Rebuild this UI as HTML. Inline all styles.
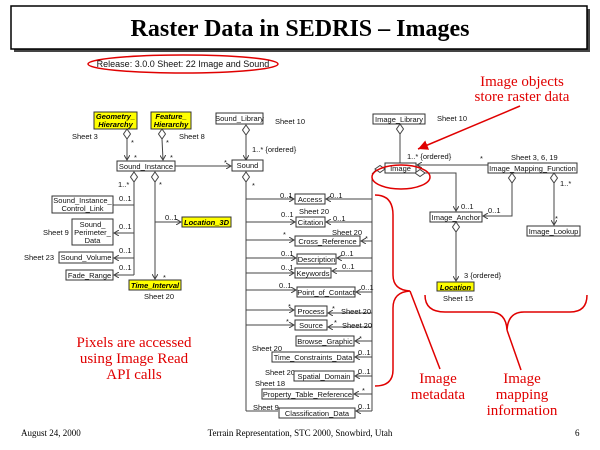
<!DOCTYPE html>
<html><head><meta charset="utf-8"><style>
html,body{margin:0;padding:0;background:#fff;}
svg{display:block;}
.t{font-family:"Liberation Sans",sans-serif;font-size:7.5px;fill:#111;}
.c{text-anchor:middle;}
.b{fill:#fff;stroke:#333;stroke-width:1;}
.y{fill:#ffff00;stroke:#333;stroke-width:1;}
.yt{font-family:"Liberation Sans",sans-serif;font-size:7.5px;font-weight:bold;font-style:italic;text-anchor:middle;}
.l{stroke:#444;stroke-width:1;fill:none;}
.r{font-family:"Liberation Serif",serif;font-size:15px;fill:#e00000;text-anchor:middle;}
.rl{stroke:#e00000;stroke-width:1.5;fill:none;}
.f{font-family:"Liberation Serif",serif;font-size:9px;fill:#000;}
</style></head><body>
<svg width="600" height="450" viewBox="0 0 600 450" xmlns="http://www.w3.org/2000/svg">
<defs>
<marker id="a" markerWidth="6" markerHeight="6" refX="5" refY="3" orient="auto" markerUnits="userSpaceOnUse"><path d="M0,0 L5,3 L0,6" fill="none" stroke="#444" stroke-width="1"/></marker>
<marker id="ra" markerWidth="12" markerHeight="10" refX="10" refY="5" orient="auto" markerUnits="userSpaceOnUse"><path d="M0,0 L10,5 L0,10 Z" fill="#e00000"/></marker>
<path id="d" d="M0,-5 L3.5,0 L0,5 L-3.5,0 Z" fill="#fff" stroke="#444" stroke-width="1"/>
</defs>
<!-- title -->
<rect x="14" y="9" width="576" height="43" fill="#444"/>
<rect x="11" y="6" width="576" height="43" fill="#fff" stroke="#000" stroke-width="1.5"/>
<text x="300" y="36" text-anchor="middle" style="font-family:'Liberation Serif',serif;font-size:24px;font-weight:bold">Raster Data in SEDRIS – Images</text>
<ellipse cx="183" cy="64" rx="95" ry="9" fill="none" stroke="#e00000" stroke-width="1.5"/>
<text x="183" y="67" class="t c" style="font-size:9px">Release: 3.0.0  Sheet: 22  Image and Sound</text>

<!-- left section -->
<rect class="y" x="94" y="112" width="43" height="17"/>
<text class="yt" x="115.5" y="119">Geometry_</text><text class="yt" x="115.5" y="127">Hierarchy</text>
<rect class="y" x="151" y="112" width="40" height="17"/>
<text class="yt" x="171" y="119">Feature_</text><text class="yt" x="171" y="127">Hierarchy</text>
<text class="t" x="72" y="139">Sheet 3</text><text class="t" x="179" y="139">Sheet 8</text>
<use href="#d" x="127" y="134"/><use href="#d" x="162" y="134"/>
<line class="l" x1="127" y1="139" x2="127" y2="160" marker-end="url(#a)"/>
<line class="l" x1="162" y1="139" x2="163" y2="160" marker-end="url(#a)"/>
<text class="t" x="131" y="145">*</text><text class="t" x="166" y="145">*</text>
<text class="t" x="134" y="160">*</text><text class="t" x="170" y="160">*</text>
<rect class="b" x="117" y="161" width="58" height="10"/><text class="t c" x="146" y="169">Sound_Instance</text>
<rect class="b" x="216" y="113" width="47" height="11"/><text class="t c" x="239.5" y="121">Sound_Library</text>
<text class="t" x="275" y="124">Sheet 10</text>
<use href="#d" x="246" y="130"/>
<line class="l" x1="246" y1="135" x2="246" y2="160" marker-end="url(#a)"/>
<text class="t" x="252" y="152">1..* {ordered}</text>
<rect class="b" x="232" y="160" width="31" height="11"/><text class="t c" x="247.5" y="168">Sound</text>
<line class="l" x1="175" y1="166" x2="231" y2="166" marker-end="url(#a)"/>
<text class="t" x="224" y="165">*</text>
<use href="#d" x="134" y="177"/><use href="#d" x="155" y="177"/>
<line class="l" x1="134" y1="182" x2="134" y2="275"/>
<text class="t" x="118" y="187">1..*</text>
<text class="t" x="159" y="187">*</text>
<rect class="b" x="52" y="196" width="61" height="17"/>
<text class="t c" x="82.5" y="203">Sound_Instance_</text><text class="t c" x="82.5" y="211">Control_Link</text>
<line class="l" x1="113" y1="205" x2="134" y2="205"/><text class="t" x="119" y="201">0..1</text>
<rect class="b" x="72" y="219" width="41" height="26"/>
<text class="t c" x="92.5" y="227">Sound_</text><text class="t c" x="92.5" y="235">Perimeter_</text><text class="t c" x="92.5" y="243">Data</text>
<text class="t" x="43" y="235">Sheet 9</text>
<line class="l" x1="134" y1="233" x2="114" y2="233" marker-end="url(#a)"/><text class="t" x="119" y="229">0..1</text>
<rect class="b" x="59" y="252" width="54" height="11"/><text class="t c" x="86" y="260">Sound_Volume</text>
<text class="t" x="24" y="260">Sheet 23</text>
<line class="l" x1="134" y1="258" x2="114" y2="258" marker-end="url(#a)"/><text class="t" x="119" y="253">0..1</text>
<rect class="b" x="66" y="270" width="47" height="10"/><text class="t c" x="89.5" y="278">Fade_Range</text>
<line class="l" x1="134" y1="275" x2="114" y2="275" marker-end="url(#a)"/><text class="t" x="119" y="270">0..1</text>
<line class="l" x1="155" y1="182" x2="155" y2="279" marker-end="url(#a)"/>
<text class="t" x="163" y="280">*</text>
<rect class="y" x="129" y="280" width="52" height="10"/><text class="yt" x="155" y="288">Time_Interval</text>
<text class="t" x="144" y="299">Sheet 20</text>
<line class="l" x1="155" y1="222" x2="181" y2="222" marker-end="url(#a)"/><text class="t" x="165" y="220">0..1</text>
<rect class="y" x="182" y="217" width="49" height="10"/><text class="yt" x="206.5" y="225">Location_3D</text>

<!-- metadata column -->
<use href="#d" x="246" y="177"/>
<line class="l" x1="246" y1="182" x2="246" y2="411"/>
<text class="t" x="252" y="188">*</text>
<line class="l" x1="372" y1="175" x2="372" y2="411"/>
<g>
<rect class="b" x="295" y="194" width="30" height="10"/><text class="t c" x="310" y="202">Access</text>
<line class="l" x1="246" y1="199" x2="294" y2="199" marker-end="url(#a)"/><line class="l" x1="372" y1="199" x2="326" y2="199" marker-end="url(#a)"/>
<text class="t" x="280" y="198">0..1</text><text class="t" x="330" y="198">0..1</text>

<text class="t" x="299" y="214">Sheet 20</text>
<rect class="b" x="296" y="217" width="29" height="10"/><text class="t c" x="310.5" y="225">Citation</text>
<line class="l" x1="246" y1="222" x2="295" y2="222" marker-end="url(#a)"/><line class="l" x1="372" y1="222" x2="326" y2="222" marker-end="url(#a)"/>
<text class="t" x="281" y="217">0..1</text><text class="t" x="333" y="221">0..1</text>

<text class="t" x="332" y="235">Sheet 20</text>
<rect class="b" x="295" y="236" width="65" height="10"/><text class="t c" x="327.5" y="244">Cross_Reference</text>
<line class="l" x1="246" y1="240" x2="294" y2="240" marker-end="url(#a)"/><line class="l" x1="372" y1="241" x2="361" y2="241" marker-end="url(#a)"/>
<text class="t" x="283" y="237">*</text><text class="t" x="365" y="241">*</text>

<rect class="b" x="297" y="254" width="39" height="10"/><text class="t c" x="316.5" y="262">Description</text>
<line class="l" x1="246" y1="258" x2="296" y2="258" marker-end="url(#a)"/><line class="l" x1="372" y1="258" x2="337" y2="258" marker-end="url(#a)"/>
<text class="t" x="281" y="256">0..1</text><text class="t" x="341" y="256">0..1</text>

<rect class="b" x="295" y="268" width="36" height="10"/><text class="t c" x="313" y="276">Keywords</text>
<line class="l" x1="246" y1="273" x2="294" y2="273" marker-end="url(#a)"/><line class="l" x1="372" y1="271" x2="332" y2="271" marker-end="url(#a)"/>
<text class="t" x="281" y="270">0..1</text><text class="t" x="342" y="269">0..1</text>

<rect class="b" x="297" y="287" width="58" height="10"/><text class="t c" x="326" y="295">Point_of_Contact</text>
<line class="l" x1="246" y1="290" x2="296" y2="290" marker-end="url(#a)"/><line class="l" x1="372" y1="292" x2="356" y2="292" marker-end="url(#a)"/>
<text class="t" x="279" y="288">0..1</text><text class="t" x="361" y="290">0..1</text>

<rect class="b" x="295" y="306" width="32" height="10"/><text class="t c" x="311" y="314">Process</text>
<line class="l" x1="246" y1="310" x2="294" y2="310" marker-end="url(#a)"/><line class="l" x1="372" y1="313" x2="328" y2="313" marker-end="url(#a)"/>
<text class="t" x="288" y="309">*</text><text class="t" x="332" y="311">*</text><text class="t" x="341" y="314">Sheet 20</text>

<rect class="b" x="295" y="320" width="32" height="10"/><text class="t c" x="311" y="328">Source</text>
<line class="l" x1="246" y1="325" x2="294" y2="325" marker-end="url(#a)"/><line class="l" x1="372" y1="327" x2="328" y2="327" marker-end="url(#a)"/>
<text class="t" x="286" y="324">*</text><text class="t" x="334" y="325">*</text><text class="t" x="342" y="328">Sheet 20</text>

<rect class="b" x="296" y="336" width="58" height="10"/><text class="t c" x="325" y="344">Browse_Graphic</text>
<line class="l" x1="372" y1="341" x2="355" y2="341" marker-end="url(#a)"/><text class="t" x="359" y="341">*</text>

<text class="t" x="252" y="351">Sheet 20</text>
<rect class="b" x="272" y="352" width="82" height="10"/><text class="t c" x="313" y="360">Time_Constraints_Data</text>
<line class="l" x1="372" y1="357" x2="355" y2="357" marker-end="url(#a)"/><text class="t" x="358" y="355">0..1</text>

<text class="t" x="265" y="375">Sheet 20</text>
<rect class="b" x="294" y="371" width="60" height="10"/><text class="t c" x="324" y="379">Spatial_Domain</text>
<line class="l" x1="372" y1="376" x2="355" y2="376" marker-end="url(#a)"/><text class="t" x="358" y="374">0..1</text>

<text class="t" x="255" y="386">Sheet 18</text>
<rect class="b" x="262" y="389" width="91" height="10"/><text class="t c" x="307.5" y="397">Property_Table_Reference</text>
<line class="l" x1="372" y1="394" x2="354" y2="394" marker-end="url(#a)"/><text class="t" x="362" y="393">*</text>

<text class="t" x="253" y="410">Sheet 9</text>
<rect class="b" x="279" y="408" width="76" height="10"/><text class="t c" x="317" y="416">Classification_Data</text>
<line class="l" x1="246" y1="411" x2="278" y2="411"/>
<line class="l" x1="372" y1="411" x2="356" y2="411" marker-end="url(#a)"/><text class="t" x="358" y="409">0..1</text>
</g>

<!-- image section -->
<rect class="b" x="373" y="114" width="52" height="10"/><text class="t c" x="399" y="122">Image_Library</text>
<text class="t" x="437" y="121">Sheet 10</text>
<use href="#d" x="400" y="129"/>
<line class="l" x1="400" y1="134" x2="400" y2="163"/>
<text class="t" x="407" y="159">1..* {ordered}</text>
<rect class="b" x="385" y="163" width="31" height="10"/><text class="t c" x="400.5" y="171">Image</text>
<use href="#d" x="380" y="169" transform="rotate(90 380 169)"/>
<path class="l" d="M376,170 L372,174"/>
<rect class="b" x="488" y="163" width="89" height="10"/><text class="t c" x="532.5" y="171">Image_Mapping_Function</text>
<text class="t" x="511" y="160">Sheet 3, 6, 19</text><text class="t" x="480" y="161">*</text>
<line class="l" x1="488" y1="165" x2="417" y2="165" marker-end="url(#a)"/>
<use href="#d" x="420" y="173" transform="rotate(90 420 173)"/>
<path class="l" d="M424,173 L456,173 L456,211" marker-end="url(#a)"/>
<text class="t" x="461" y="209">0..1</text>
<rect class="b" x="430" y="212" width="52" height="10"/><text class="t c" x="456" y="220">Image_Anchor</text>
<use href="#d" x="512" y="178"/>
<path class="l" d="M512,183 L512,216 L483,216" marker-end="url(#a)"/>
<text class="t" x="488" y="213">0..1</text>
<use href="#d" x="554" y="178"/>
<line class="l" x1="554" y1="183" x2="554" y2="225" marker-end="url(#a)"/>
<text class="t" x="560" y="186">1..*</text><text class="t" x="555" y="221">*</text>
<rect class="b" x="527" y="226" width="53" height="10"/><text class="t c" x="553.5" y="234">Image_Lookup</text>
<use href="#d" x="456" y="227"/>
<line class="l" x1="456" y1="232" x2="456" y2="281" marker-end="url(#a)"/>
<text class="t" x="464" y="278">3 {ordered}</text>
<rect class="y" x="437" y="282" width="37" height="9"/><text class="yt" x="455.5" y="290">Location</text>
<text class="t" x="443" y="301">Sheet 15</text>

<!-- red annotations -->
<text class="r" x="522" y="86">Image objects</text>
<text class="r" x="522" y="101">store raster data</text>
<line class="rl" x1="520" y1="106" x2="418" y2="149" marker-end="url(#ra)"/>
<ellipse cx="401" cy="177" rx="29" ry="12" class="rl"/>
<path class="rl" d="M375,195 Q393,195 393,215 L393,275 Q393,290 410,291 Q393,292 393,308 L393,370 Q393,386 375,386"/>
<line class="rl" x1="410" y1="291" x2="440" y2="369"/>
<text class="r" x="438" y="383">Image</text><text class="r" x="438" y="399">metadata</text>
<path class="rl" d="M425,295 Q425,312 445,312 L490,312 Q506,312 507,330 Q508,312 524,312 L570,312 Q587,312 587,295"/>
<line class="rl" x1="507" y1="330" x2="521" y2="370"/>
<text class="r" x="522" y="383">Image</text><text class="r" x="522" y="399">mapping</text><text class="r" x="522" y="415">information</text>
<text class="r" x="134" y="347">Pixels are accessed</text>
<text class="r" x="134" y="363">using Image Read</text>
<text class="r" x="134" y="379">API calls</text>

<!-- footer -->
<text class="f" x="21" y="436">August 24, 2000</text>
<text class="f" x="300" y="436" text-anchor="middle">Terrain Representation, STC 2000, Snowbird, Utah</text>
<text class="f" x="575" y="436">6</text>
</svg>
</body></html>
